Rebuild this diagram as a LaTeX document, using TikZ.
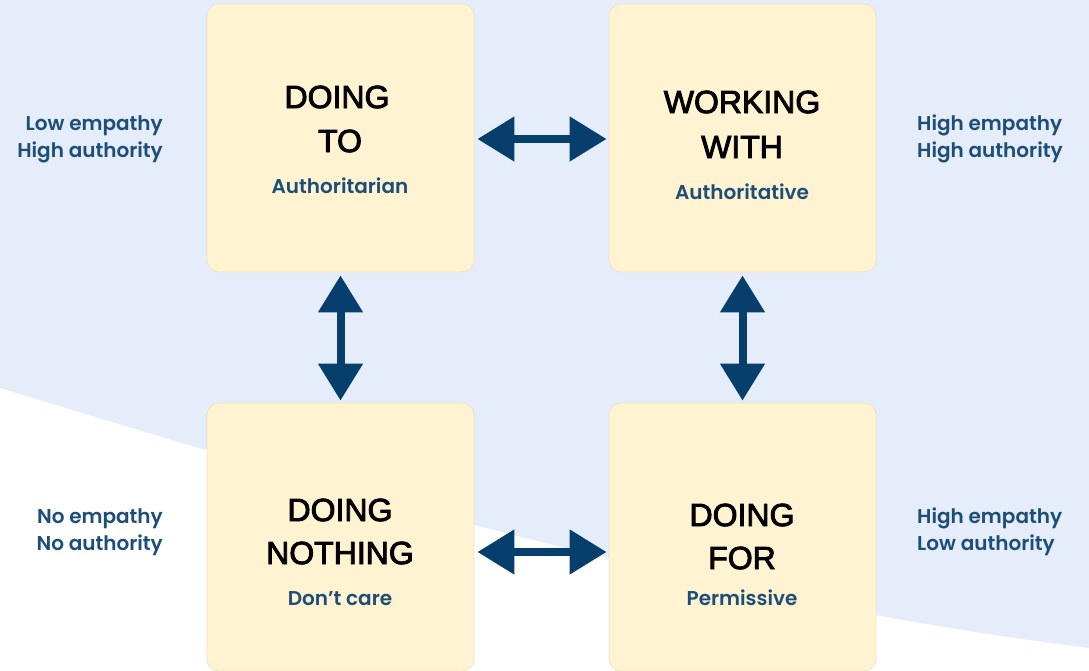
\documentclass[tikz,border=0pt]{standalone}
\usepackage{fontspec}
\setmainfont{Liberation Sans}
\newfontfamily\labfont{Poppins}[UprightFont={* SemiBold}]
\usetikzlibrary{arrows.meta}
\definecolor{bgblue}{HTML}{E5EDFA}
\definecolor{boxfill}{HTML}{FFF3D1}
\definecolor{boxedge}{HTML}{F0E4C2}
\definecolor{navy}{HTML}{073F6C}
\definecolor{labblue}{HTML}{1C4E78}
\newcommand{\fakebold}[1]{\special{pdf:literal direct 2 Tr 0.9 w 0 G}#1\special{pdf:literal direct 0 Tr}}
\tikzset{
  quad/.style={draw=boxedge, line width=0.8pt, fill=boxfill, rounded corners=12pt, minimum width=267pt, minimum height=268pt, inner sep=0pt},
  title/.style={font=\fontsize{32}{38}\selectfont, text=black, inner sep=0pt},
  sub/.style={font=\labfont\fontsize{20}{22}\selectfont, text=labblue, inner sep=0pt},
  side/.style={font=\labfont\fontsize{20}{27}\selectfont, text=labblue, inner sep=0pt, align=#1},
  dbl/.style={draw=navy, line width=8pt, {Triangle[length=37pt,width=43pt]}-{Triangle[length=37pt,width=43pt]}}
}
\begin{document}
\begin{tikzpicture}[x=1pt,y=-1pt]
\useasboundingbox (0,0) rectangle (1089,670);
\fill[bgblue] (0,0) rectangle (1089,670);
\fill[white] (0,388) .. controls (300,480) and (700,600) .. (1089,648) -- (1089,670) -- (0,670) -- cycle;

\node[quad] (tl) at (340.5,138) {};
\node[quad] (tr) at (742.5,138) {};
\node[quad] (bl) at (340.5,537) {};
\node[quad] (br) at (742.5,537) {};

\node[title] (tl1) at (337,97) {\fakebold{DOING}};
\node[title] (tl2) at (340,141) {\fakebold{TO}};
\node[sub] (tl3) at (340,186) {Authoritarian};

\node[title] (tr1) at (742,102) {\fakebold{WORKING}};
\node[title] (tr2) at (742,147) {\fakebold{WITH}};
\node[sub] (tr3) at (742,192) {Authoritative};

\node[title] (bl1) at (340,510) {\fakebold{DOING}};
\node[title] (bl2) at (340,553) {\fakebold{NOTHING}};
\node[sub] (bl3) at (340,599) {Don’t care};

\node[title] (br1) at (742,515) {\fakebold{DOING}};
\node[title] (br2) at (742,558) {\fakebold{FOR}};
\node[sub] (br3) at (742,598) {Permissive};

\node[side=right, anchor=east] (ltl) at (163,139) {Low empathy\\High authority};
\node[side=left, anchor=west] (ltr) at (917,139) {High empathy\\High authority};
\node[side=right, anchor=east] (lbl) at (163,532) {No empathy\\No authority};
\node[side=left, anchor=west] (lbr) at (917,532) {High empathy\\Low authority};

\draw[dbl] ([xshift=3pt,yshift=-1pt]tl.east) -- ([xshift=-2pt,yshift=-1pt]tr.west);
\draw[dbl] ([xshift=3pt,yshift=-15pt]bl.east) -- ([xshift=-2pt,yshift=-15pt]br.west);
\draw[dbl] ([yshift=-3pt]tl.south) -- ([yshift=2pt]bl.north);
\draw[dbl] ([yshift=-3pt]tr.south) -- ([yshift=2pt]br.north);
\end{tikzpicture}
\end{document}
